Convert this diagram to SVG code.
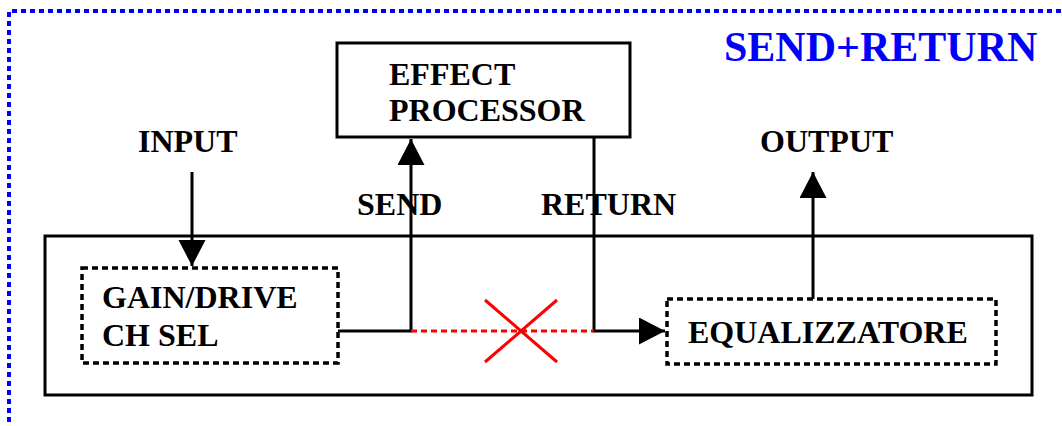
<svg xmlns="http://www.w3.org/2000/svg" width="1062" height="426" viewBox="0 0 1062 426">
<defs>
<style>
text{font-family:"Liberation Serif","Times New Roman",serif;font-weight:bold;fill:#000}
.lbl{font-size:32px}
.solid{fill:none;stroke:#000;stroke-width:3}
.dot{fill:none;stroke:#000;stroke-width:3.5;stroke-dasharray:6 4}
.wire{fill:none;stroke:#000;stroke-width:3}
</style>
<marker id="ah" markerUnits="userSpaceOnUse" markerWidth="28" markerHeight="28" refX="26" refY="13.5" orient="auto">
<path d="M0,0 L26,13.5 L0,27 Z" fill="#000"/>
</marker>
</defs>
<rect width="1062" height="426" fill="#fff"/>
<g id="frame">
<path d="M9,440 L9,11 L1070,11" fill="none" stroke="#0000ff" stroke-width="4" stroke-dasharray="5 4"/>
<text x="724" y="61" style="font-size:42px;fill:#0000ff">SEND+RETURN</text>
</g>
<g id="amp">
<rect x="45" y="236" width="987" height="159" class="solid"/>
</g>
<g id="effect">
<rect x="337" y="43" width="293" height="94" class="solid"/>
<text x="389" y="85" class="lbl">EFFECT</text>
<text x="389" y="121" class="lbl">PROCESSOR</text>
</g>
<g id="gain">
<rect x="82" y="268" width="256" height="95" class="dot"/>
<text x="102" y="308" class="lbl">GAIN/DRIVE</text>
<text x="102" y="346" class="lbl">CH SEL</text>
</g>
<g id="eq">
<rect x="667" y="299" width="329" height="65" class="dot"/>
<text x="688" y="343" class="lbl">EQUALIZZATORE</text>
</g>
<g id="labels">
<text x="138" y="152" class="lbl">INPUT</text>
<text x="760" y="152" class="lbl">OUTPUT</text>
<text x="357" y="215" class="lbl">SEND</text>
<text x="541" y="215" class="lbl">RETURN</text>
</g>
<g id="connectors">
<path d="M192,172 L192,266" class="wire" marker-end="url(#ah)"/>
<path d="M338,331 L411,331 L411,139" class="wire" marker-end="url(#ah)"/>
<path d="M594,137 L594,331 L665,331" class="wire" marker-end="url(#ah)"/>
<path d="M813,299 L813,172" class="wire" marker-end="url(#ah)"/>
<path d="M411,331 L594,331" fill="none" stroke="#ff0000" stroke-width="3" stroke-dasharray="6 4"/>
<path d="M485,300 L557,362 M557,300 L485,362" fill="none" stroke="#ff0000" stroke-width="3"/>
</g>
</svg>
